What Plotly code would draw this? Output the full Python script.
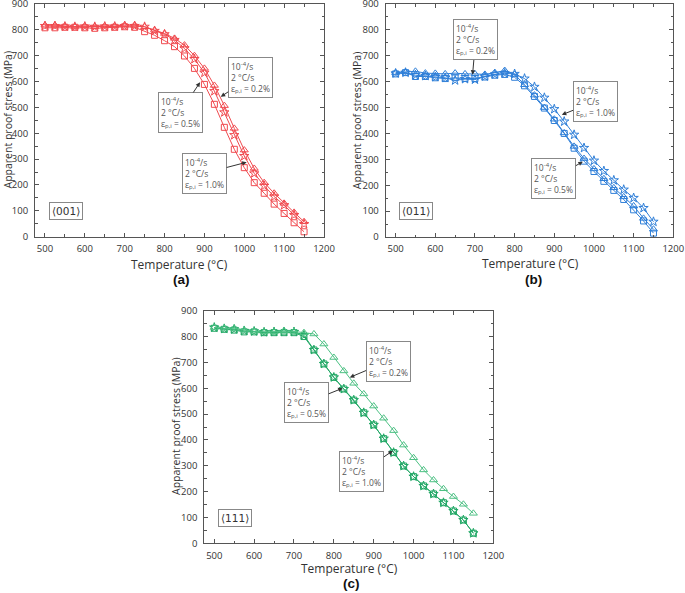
import plotly.graph_objects as go

temps = [500, 525, 550, 575, 600, 625, 650, 675, 700, 725, 750, 775, 800, 825,
         850, 875, 900, 925, 950, 975, 1000, 1025, 1050, 1075, 1100, 1125, 1150]

# <001>
a_tri = [818, 818, 815, 813, 815, 813, 815, 815, 818, 818, 812, 799, 786, 767,
         741, 700, 651, 585, 507, 419, 335, 264, 209, 168, 129, 94, 58]
a_star = [815, 815, 813, 812, 813, 812, 813, 813, 815, 815, 812, 796, 783, 761,
          728, 687, 634, 563, 481, 393, 312, 245, 197, 155, 122, 84, 49]
a_sq = [808, 808, 810, 810, 808, 806, 808, 810, 812, 810, 793, 779, 758, 735,
        699, 651, 589, 512, 423, 338, 267, 209, 168, 126, 90, 54, 19]

# <011>
b_tri = [635, 638, 640, 633, 632, 630, 633, 630, 630, 628, 635, 643, 628, 588,
         548, 500, 455, 402, 350, 303, 263, 225, 190, 155, 120, 72, 30]
b_star = [632, 635, 625, 622, 618, 615, 605, 610, 608, 620, 628, 632, 630, 612,
          580, 538, 494, 446, 395, 344, 295, 255, 219, 183, 151, 112, 59]
b_sq = [630, 635, 620, 620, 615, 612, 615, 612, 612, 618, 625, 628, 617, 584,
        543, 498, 450, 400, 343, 293, 253, 215, 180, 145, 105, 62, 15]

# <111>
c_tri = [835, 832, 832, 825, 820, 818, 818, 822, 820, 815, 810, 771, 719, 667,
         619, 578, 531, 484, 436, 380, 331, 284, 245, 211, 181, 151, 116]
c_star = [835, 830, 828, 822, 820, 817, 818, 818, 818, 805, 748, 694, 642, 597,
          554, 505, 458, 405, 351, 299, 258, 222, 191, 157, 125, 90, 39]
c_sq = [832, 828, 825, 818, 818, 815, 815, 815, 815, 800, 748, 694, 642, 597,
        554, 505, 458, 405, 351, 299, 258, 222, 191, 157, 125, 90, 39]

y_ticks = [0, 100, 200, 300, 400, 500, 600, 700, 800, 900]
x_ticks = [500, 600, 700, 800, 900, 1000, 1100, 1200]
x_minor = [550, 650, 750, 850, 950, 1050, 1150]
y_minor = [50, 150, 250, 350, 450, 550, 650, 750, 850]

W, H = 685, 593

def px_dom(x0, x1):
    return [x0 / W, x1 / W]

def py_dom(y0, y1):
    return [1 - y1 / H, 1 - y0 / H]

def pxp(x):
    return x / W

def pyp(y):
    return 1 - y / H

BOX = "10<sup>-4</sup>/s<br>2 °C/s<br>ε<sub>p,i</sub> = "

panels = [
    dict(key="", xd=px_dom(35, 324), yd=py_dom(4, 236.7), color="#f04a4f", tri_color="#f04a4f",
         data=(a_tri, a_star, a_sq), label="⟨001⟩", letter="(a)",
         xt=(179, 264), yt=(7, 120.5), lt=(181.5, 279.7),
         ann=[(BOX + "0.2%", 941, 541, 29.5, -19.7),
              (BOX + "0.5%", 889, 597, -20, 30.2),
              (BOX + "1.0%", 1006, 288, -42, 11)]),
    dict(key="2", xd=px_dom(385.7, 673.3), yd=py_dom(4, 237), color="#2f7fd8", tri_color="#2f7fd8",
         data=(b_tri, b_star, b_sq), label="⟨011⟩", letter="(b)",
         xt=(530, 263), yt=(356.7, 120.5), lt=(533.5, 279.7),
         ann=[(BOX + "0.2%", 694, 627, 3, -34.7),
              (BOX + "1.0%", 919, 472, 33.3, -13.3),
              (BOX + "0.5%", 972, 291, -29, 16.6)]),
    dict(key="3", xd=px_dom(204.3, 493.3), yd=py_dom(310.7, 543.3), color="#22a866", tri_color="#4cc083",
         data=(c_tri, c_star, c_sq), label="⟨111⟩", letter="(c)",
         xt=(349, 568.5), yt=(176, 427), lt=(351.5, 583.5),
         ann=[(BOX + "0.2%", 840, 642, 38.3, -16.1),
              (BOX + "0.5%", 822, 600, -36, 14.4),
              (BOX + "1.0%", 948, 358, -31, 21.1)]),
]

fig = go.Figure()
annotations = []
layout = {}
font_main = "Open Sans, DejaVu Sans, sans-serif"

for p in panels:
    k = p["key"]
    xa, ya = "x" + k, "y" + k
    tri, star, sq = p["data"]
    for vals, sym, size, col, name in [(sq, "square-open", 6, p["color"], "ε = 0.5%"),
                                       (star, "star-open", 7, p["color"], "ε = 1.0%"),
                                       (tri, "triangle-up-open", 7, p["tri_color"], "ε = 0.2%")]:
        fig.add_trace(go.Scatter(
            x=temps, y=vals, mode="lines+markers", name=name, showlegend=False,
            xaxis=xa, yaxis=ya,
            line=dict(color=col, width=1),
            marker=dict(symbol=sym, size=size, color=col, line=dict(color=col, width=1)),
        ))
    axis_common = dict(showline=True, linecolor="#555555", linewidth=1, mirror="ticks",
                       ticks="inside", ticklen=4, tickcolor="#555555", tickwidth=1,
                       showgrid=False, zeroline=False, automargin=False,
                       ticklabeloverflow="allow",
                       tickfont=dict(family=font_main, size=9.5, color="#333333"),
                       minor=dict(ticks="inside", ticklen=2.5, tickcolor="#555555", showgrid=False))
    layout["xaxis" + k] = dict(domain=p["xd"], range=[475, 1200], tickvals=x_ticks,
                               anchor=ya, ticklabelstandoff=3,
                               minor_tickvals=x_minor, **axis_common)
    layout["yaxis" + k] = dict(domain=p["yd"], range=[0, 900], tickvals=y_ticks,
                               anchor=xa, ticklabelstandoff=4,
                               minor_tickvals=y_minor, **axis_common)
    # axis titles
    annotations.append(dict(
        x=pxp(p["xt"][0]), y=pyp(p["xt"][1]), xref="paper", yref="paper",
        text="Temperature (°C)", showarrow=False, xanchor="center", yanchor="middle",
        font=dict(family=font_main, size=12, color="#333333")))
    annotations.append(dict(
        x=pxp(p["yt"][0]), y=pyp(p["yt"][1]), xref="paper", yref="paper",
        text="Apparent proof stress (MPa)", showarrow=False, textangle=-90,
        xanchor="center", yanchor="middle",
        font=dict(family=font_main, size=10.5, color="#333333")))
    for text, x, y, ax, ay in p["ann"]:
        annotations.append(dict(
            x=x, y=y, xref=xa, yref=ya, text=text, showarrow=True,
            ax=ax, ay=ay, axref="pixel", ayref="pixel",
            arrowhead=2, arrowsize=0.9, arrowwidth=1, arrowcolor="#333333",
            align="left", bordercolor="#888888", borderwidth=1, borderpad=2,
            bgcolor="white", font=dict(family=font_main, size=8.5, color="#555555"),
        ))
    annotations.append(dict(
        x=552, y=99, xref=xa, yref=ya, text=p["label"], showarrow=False,
        bordercolor="#888888", borderwidth=1, borderpad=2, bgcolor="white",
        font=dict(family="DejaVu Sans, sans-serif", size=10.5, color="#333333"),
    ))
    annotations.append(dict(
        x=pxp(p["lt"][0]), y=pyp(p["lt"][1]), xref="paper", yref="paper",
        text="<b>" + p["letter"] + "</b>", showarrow=False, xanchor="center", yanchor="middle",
        font=dict(family="Liberation Sans, Arial, sans-serif", size=13.5, color="#111111"),
    ))

fig.update_layout(
    width=W, height=H, margin=dict(l=0, r=0, t=0, b=0),
    paper_bgcolor="white", plot_bgcolor="white",
    annotations=annotations, **layout,
)

# remove the default page margin so the figure sits at the window's top-left corner
fig.write_html("out.html", config={"displayModeBar": False},
               post_script="document.body.style.margin='0';document.body.style.overflow='hidden';")
